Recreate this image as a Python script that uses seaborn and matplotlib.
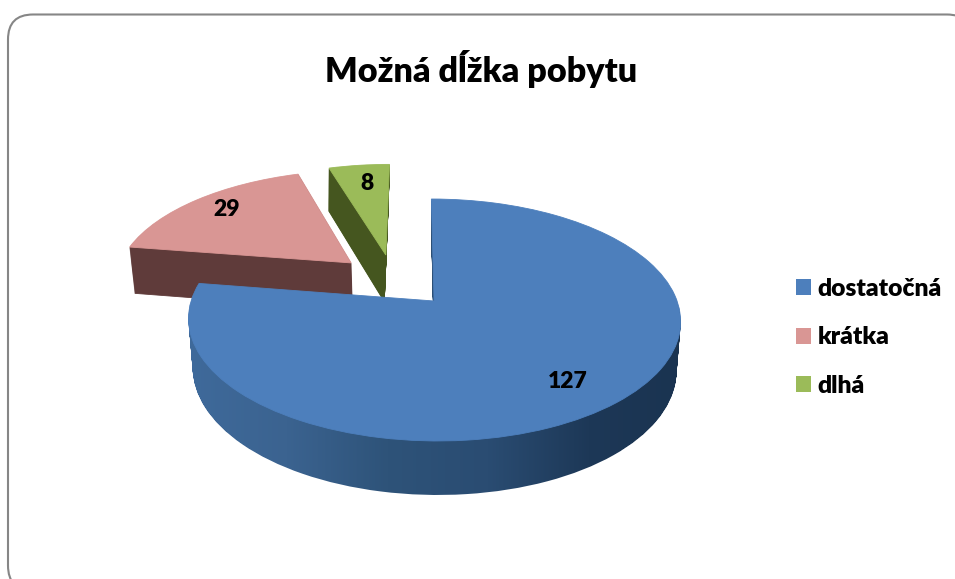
# -*- coding: utf-8 -*-
"""
Exploded 3D-look pie: Mozna dlzka pobytu.
"""

import numpy as np
import matplotlib
matplotlib.use('Agg')
import matplotlib.pyplot as plt
import seaborn as sns
from matplotlib.colors import LinearSegmentedColormap
from matplotlib.patches import FancyBboxPatch, Patch
from matplotlib.path import Path
from matplotlib.transforms import Transform


# =============================================================================
# Data
# =============================================================================

title = 'Možná dĺžka pobytu'
categories = ['dostatočná', 'krátka', 'dlhá']
values = [127, 29, 8]

top_colors = ['#4d7fbc', '#d99694', '#9bbb59']
wall_colors = ['#2e5379', '#5f3b3a', '#45561f']
blue_wall_stops = ['#3f6a9b', '#3b6390', '#2e5379', '#2a4c72', '#1d3857', '#1a3350']

# where each slice sits on the pie plane (explosion)
offsets = [(-0.01, 0.0), (-0.365, 0.34), (-0.216, 0.415)]
# sideways drift of the wall going down, keeps the green side hidden on the right
wall_lean = [0.0, 0.0, -0.011]
zorders = [6, 4, 2]


# =============================================================================
# Projection from the pie plane to picture pixels
# =============================================================================

class PieProjection(Transform):
    input_dims = 2
    output_dims = 2
    is_affine = False

    def __init__(self, drop=0.0):
        super().__init__()
        self.drop = drop

    def transform_non_affine(self, values):
        u, v = np.asarray(values).T
        den = 1 + 0.157 * v
        # the lower rim is a little narrower than the upper one
        x = 436.5 + (243 * u - 3.5 * v) * (1 - 0.017 * self.drop) / den
        y = 301 - 118 * v / den + 48.6 * self.drop / (1 + 0.1 * v)
        return np.column_stack([x, y])


# =============================================================================
# Figure
# =============================================================================

sns.set_theme(style='white')
plt.rcParams['font.family'] = ['Lato', 'DejaVu Sans']

fig = plt.figure(figsize=(9.55, 5.79), dpi=100, facecolor='white')
ax = fig.add_axes([0, 0, 1, 1])

blue_paths = []
drops = np.linspace(1, 0, 46)

for drop in drops:
    is_top = drop == 0
    wedges, _ = ax.pie(
        values,
        colors=sns.color_palette(top_colors if is_top else wall_colors),
        startangle=90,
        counterclock=False,
        labeldistance=None,
        wedgeprops={'linewidth': 0.6},
    )
    proj = PieProjection(drop)
    for i, w in enumerate(wedges):
        w.set_center((offsets[i][0] + wall_lean[i] * drop, offsets[i][1]))
        w.set_edgecolor(w.get_facecolor())
        w.set_transform(proj + ax.transData)
        w.set_zorder(zorders[i] + (1 if is_top else 0))
        if i == 0 and not is_top:
            blue_paths.append(proj.transform_path(w.get_path()))
            w.set_visible(False)

# side of the big slice: dark to the right
wall_cmap = LinearSegmentedColormap.from_list('wall', blue_wall_stops)
im = ax.imshow(
    np.linspace(0, 1, 256).reshape(1, -1),
    cmap=wall_cmap,
    extent=(185, 690, 505, 190),
    aspect='auto',
    zorder=6,
)
im.set_clip_path(Path.make_compound_path(*blue_paths), ax.transData)

ax.set_aspect('auto')
ax.set_xlim(0, 955)
ax.set_ylim(579, 0)
ax.set_axis_off()

# rounded chart frame, runs off the picture on the right and bottom
ax.add_patch(FancyBboxPatch(
    (33, 39.5), 914, 526,
    boxstyle='round,pad=25,rounding_size=25',
    facecolor='white', edgecolor='#868686', linewidth=1.5, zorder=0,
))

ax.text(481, 69, title, ha='center', va='center', fontsize=24.6, fontweight='heavy', color='black')

ax.text(568, 382, str(values[0]), ha='center', va='center', fontsize=16.5, fontweight='heavy', color='black', zorder=10)
ax.text(227, 210, str(values[1]), ha='center', va='center', fontsize=16.5, fontweight='heavy', color='black', zorder=10)
ax.text(367, 184, str(values[2]), ha='center', va='center', fontsize=16.5, fontweight='heavy', color='black', zorder=10)

handles = [Patch(facecolor=c, edgecolor='none', label=n) for c, n in zip(top_colors, categories)]
ax.legend(
    handles=handles,
    loc='upper left',
    bbox_to_anchor=(796, 278),
    bbox_transform=ax.transData,
    frameon=False,
    borderpad=0,
    borderaxespad=0,
    handlelength=0.61,
    handleheight=0.61,
    handletextpad=0.26,
    labelspacing=1.07,
    labelcolor='black',
    prop={'weight': 'heavy', 'size': 17.7},
)

fig.savefig('out.png', dpi=100)
